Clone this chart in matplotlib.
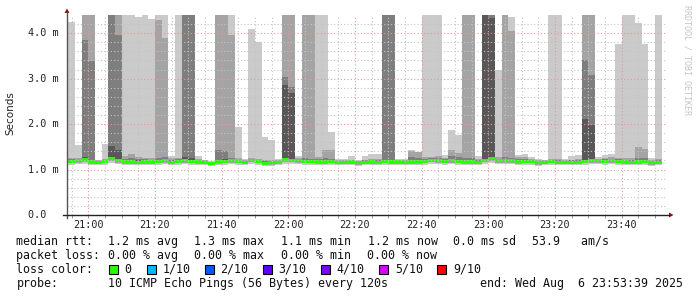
import matplotlib
matplotlib.use("Agg")
import matplotlib.pyplot as plt
import numpy as np
from matplotlib import transforms
from matplotlib.patches import Rectangle, Polygon
from matplotlib.lines import Line2D

# ---------------- data (ms), one value per 2-minute step starting 20:54 ----------------
step_start_min = 20 * 60 + 54
step_minutes = 2

median_ms = [1.187,1.19,1.224,1.18,1.15,1.18,1.245,1.194,1.18,1.172,
             1.165,1.18,1.172,1.18,1.194,1.165,1.18,1.194,1.18,1.172,
             1.15,1.128,1.172,1.18,1.194,1.18,1.165,1.21,1.18,1.14,
             1.15,1.165,1.217,1.21,1.194,1.18,1.18,1.172,1.172,1.18,
             1.158,1.158,1.172,1.15,1.165,1.172,1.165,1.18,1.172,1.172,
             1.158,1.172,1.172,1.18,1.209,1.194,1.187,1.194,1.18,1.172,
             1.172,1.165,1.202,1.238,1.194,1.194,1.194,1.172,1.18,1.18,
             1.15,1.165,1.18,1.165,1.16,1.165,1.165,1.18,1.194,1.194,
             1.18,1.194,1.18,1.172,1.165,1.172,1.18,1.15,1.165]

ping1_ms = [1.11,1.12,1.13,1.10,1.10,1.11,1.15,1.12,1.10,1.09,
            1.09,1.10,1.10,1.11,1.12,1.10,1.11,1.12,1.11,1.11,
            1.10,1.08,1.11,1.11,1.12,1.11,1.09,1.12,1.10,1.07,
            1.08,1.09,1.13,1.12,1.12,1.11,1.11,1.10,1.10,1.11,
            1.09,1.09,1.10,1.08,1.09,1.10,1.09,1.11,1.10,1.10,
            1.09,1.10,1.10,1.11,1.13,1.12,1.11,1.12,1.10,1.10,
            1.10,1.09,1.13,1.15,1.12,1.12,1.12,1.10,1.11,1.11,
            1.08,1.09,1.11,1.09,1.09,1.10,1.10,1.11,1.12,1.12,
            1.11,1.12,1.11,1.10,1.09,1.10,1.11,1.08,1.10]

ping2_ms = [1.14,1.15,1.17,1.13,1.12,1.14,1.19,1.15,1.13,1.12,
            1.12,1.13,1.13,1.14,1.15,1.12,1.14,1.15,1.14,1.13,
            1.12,1.10,1.13,1.14,1.15,1.14,1.12,1.16,1.14,1.10,
            1.11,1.12,1.17,1.16,1.15,1.14,1.14,1.13,1.13,1.14,
            1.12,1.12,1.13,1.11,1.12,1.13,1.12,1.14,1.13,1.13,
            1.12,1.13,1.13,1.14,1.16,1.15,1.14,1.15,1.14,1.13,
            1.13,1.12,1.16,1.19,1.15,1.15,1.15,1.13,1.14,1.14,
            1.11,1.12,1.14,1.12,1.12,1.12,1.12,1.14,1.15,1.15,
            1.14,1.15,1.14,1.13,1.12,1.13,1.14,1.11,1.12]

ping3_ms = [1.165,1.17,1.20,1.155,1.13,1.155,1.22,1.17,1.155,1.15,
            1.14,1.155,1.15,1.155,1.17,1.14,1.155,1.17,1.155,1.15,
            1.13,1.11,1.15,1.155,1.17,1.155,1.14,1.19,1.155,1.12,
            1.13,1.14,1.195,1.19,1.17,1.155,1.155,1.15,1.15,1.155,
            1.135,1.135,1.15,1.13,1.14,1.15,1.14,1.155,1.15,1.15,
            1.135,1.15,1.15,1.155,1.185,1.17,1.165,1.17,1.155,1.15,
            1.15,1.14,1.18,1.215,1.17,1.17,1.17,1.15,1.155,1.155,
            1.13,1.14,1.155,1.14,1.14,1.14,1.14,1.155,1.17,1.17,
            1.155,1.17,1.155,1.15,1.14,1.15,1.155,1.13,1.14]

ping7_ms = [1.21,1.22,1.27,1.22,1.18,1.20,1.51,1.44,1.22,1.22,
            1.20,1.21,1.20,1.22,1.23,1.19,1.21,1.27,1.25,1.20,
            1.17,1.15,1.22,1.24,1.22,1.21,1.18,1.22,1.20,1.16,
            1.16,1.18,2.85,2.68,1.21,1.22,1.21,1.20,1.20,1.20,
            1.18,1.18,1.19,1.16,1.18,1.19,1.19,1.22,1.21,1.18,
            1.17,1.22,1.21,1.21,1.23,1.22,1.21,1.22,1.21,1.22,
            1.21,1.19,5.0,4.33,1.22,1.22,1.22,1.21,1.21,1.20,
            1.17,1.17,1.20,1.18,1.17,1.18,1.19,2.11,1.985,1.20,
            1.21,1.22,1.21,1.20,1.19,1.21,1.21,1.17,1.19]

ping8_ms = [1.23,1.23,3.85,3.39,1.19,1.22,5.0,3.96,1.24,1.26,
            1.23,1.23,1.22,1.25,1.27,1.22,1.23,5.0,5.0,1.22,
            1.19,1.16,1.42,1.40,1.26,1.22,1.19,1.23,1.21,1.18,
            1.18,1.19,3.03,2.81,1.23,1.25,1.24,1.23,1.25,1.24,
            1.19,1.19,1.20,1.17,1.20,1.21,1.21,5.0,5.0,1.19,
            1.19,1.28,1.26,1.24,1.25,1.26,1.24,1.30,1.27,1.26,
            1.26,1.21,5.0,5.0,1.24,1.27,1.26,1.23,1.23,1.22,
            1.18,1.18,1.21,1.20,1.18,1.20,1.21,3.41,3.08,1.21,
            1.23,1.24,1.23,1.22,1.22,1.25,1.25,1.18,1.21]

ping9_ms = [1.25,1.26,5.0,5.0,1.20,1.24,5.0,5.0,1.29,1.34,
            1.27,1.26,1.26,4.28,3.89,1.25,1.26,5.0,5.0,1.24,
            1.20,1.17,5.0,5.0,3.96,1.25,1.20,1.25,1.24,1.22,
            1.22,1.21,5.0,5.0,1.25,5.0,5.0,1.27,1.42,1.42,
            1.21,1.21,1.22,1.19,1.22,1.24,1.24,5.0,5.0,1.21,
            1.21,1.41,1.38,1.28,1.27,1.30,1.26,1.43,1.36,5.0,
            5.0,1.24,5.0,5.0,1.28,5.0,4.04,1.27,1.27,1.24,
            1.21,1.20,1.24,1.23,1.20,1.22,1.24,5.0,5.0,1.23,
            1.26,1.28,1.26,1.26,1.25,1.49,1.45,1.20,1.24]

ping10_ms = [4.24,1.55,5.0,5.0,1.21,1.56,5.0,5.0,5.0,5.0,
             4.36,5.0,4.32,5.0,5.0,1.30,5.0,5.0,5.0,1.29,
             1.21,1.19,5.0,5.0,5.0,1.93,1.23,4.09,3.80,1.71,
             1.64,1.23,5.0,5.0,1.30,5.0,5.0,5.0,5.0,1.82,
             1.24,1.24,1.29,1.22,1.30,1.34,1.35,5.0,5.0,1.24,
             1.24,1.42,1.39,5.0,5.0,5.0,1.33,1.875,1.76,5.0,
             5.0,1.30,5.0,5.0,3.19,5.0,4.35,1.33,1.34,1.28,
             1.24,1.22,5.0,5.0,1.23,1.29,1.33,5.0,5.0,1.27,
             1.33,1.34,3.77,5.0,5.0,4.22,3.77,1.25,5.0]

x_tick_labels = ["21:00", "21:20", "21:40", "22:00", "22:20", "22:40", "23:00", "23:20", "23:40"]
y_tick_values = [0.0, 1.0, 2.0, 3.0, 4.0]
y_tick_labels = ["0.0  ", "1.0 m", "2.0 m", "3.0 m", "4.0 m"]

loss_labels = ["0", "1/10", "2/10", "3/10", "4/10", "5/10", "9/10"]
loss_colors = ["#26ff00", "#00b8ff", "#0059ff", "#5e00ff", "#7e00ff", "#dd00ff", "#ff0000"]

# ---------------- figure ----------------
W, H = 697, 297
fig = plt.figure(figsize=(W / 100, H / 100), dpi=100)
fig.patch.set_facecolor("white")
ax = fig.add_axes([67 / W, (H - 215) / H, 600 / W, 200 / H])
ax.set_facecolor("white")

x_start = 20 * 60 + 53 + 39 / 60.0
x_end = x_start + 180
ax.set_xlim(x_start, x_end)
ax.set_ylim(0, 4.4)

n = len(median_ms)
xe = step_start_min + step_minutes * np.arange(n + 1)


def ext(a):
    a = np.asarray(a, dtype=float)
    return np.append(a, a[-1])


med = np.asarray(median_ms)
bands = [
    (ping1_ms, ping10_ms, "#cacaca"),
    (ping2_ms, ping9_ms, "#a4a4a4"),
    (ping3_ms, ping8_ms, "#7e7e7e"),
    (median_ms, ping7_ms, "#585858"),
]
for z, (lo, hi, col) in enumerate(bands):
    ax.fill_between(xe, ext(lo), ext(hi), step="post", color=col, lw=0,
                    zorder=1 + z * 0.1, antialiased=False)

sw = 0.033
ax.fill_between(xe, ext(med - sw), ext(med + sw), step="post", color="#26ff00",
                lw=0, zorder=2, antialiased=False)

# grid (drawn above data, like rrdtool)
minor_x = np.arange(20 * 60 + 55, x_end, 5)
major_x = [21 * 60 + 20 * k for k in range(len(x_tick_labels))]
for xv in minor_x:
    if xv in major_x:
        continue
    ax.axvline(xv, color="#c4c4c4", lw=0.8, ls=(0, (1, 2)), zorder=3)
for yv in np.arange(0.2, 4.4, 0.2):
    if abs(yv - round(yv)) < 1e-6:
        continue
    ax.axhline(yv, color="#c4c4c4", lw=0.8, ls=(0, (1, 2)), zorder=3)
for xv in major_x:
    ax.axvline(xv, color="#e29a9a", lw=0.8, ls=(0, (1, 2)), zorder=3.1)
for yv in y_tick_values[1:]:
    ax.axhline(yv, color="#e29a9a", lw=0.8, ls=(0, (1, 2)), zorder=3.1)

for s in ax.spines.values():
    s.set_visible(False)

mono = "DejaVu Sans Mono"
ax.set_xticks(major_x)
ax.set_xticklabels(x_tick_labels, fontfamily=mono, fontsize=7.3, color="#222222")
ax.set_xticks(minor_x, minor=True)
ax.tick_params(axis="x", which="both", length=2, width=0.6, color="#888888", pad=1.8)
ax.set_yticks([])

ytrans = transforms.blended_transform_factory(fig.transFigure, ax.transData)
for yv, lab in zip(y_tick_values, y_tick_labels):
    ax.text(28 / W, yv, lab, transform=ytrans, ha="left", va="center",
            fontfamily=mono, fontsize=7.3, color="#222222", clip_on=False)

# axes lines with arrows
def fx(px):
    return px / W


def fy(py):
    return 1 - py / H


fig.add_artist(Line2D([fx(67), fx(67)], [fy(218), fy(12)], color="#555555", lw=1.0))
fig.add_artist(Line2D([fx(63), fx(669)], [fy(215), fy(215)], color="#222222", lw=1.0))
fig.add_artist(Polygon([[fx(64.5), fy(13)], [fx(69.5), fy(13)], [fx(67), fy(8.5)]],
                       closed=True, color="#8b1010", lw=0))
fig.add_artist(Polygon([[fx(669), fy(212.5)], [fx(669), fy(217.5)], [fx(673.5), fy(215)]],
                       closed=True, color="#8b1010", lw=0))

fig.text(fx(10), fy(113), "Seconds", rotation=90, ha="center", va="center",
         fontsize=7.5, color="#222222")
fig.text(fx(687), fy(5), "RRDTOOL / TOBI OETIKER", rotation=270, ha="center", va="top",
         fontfamily=mono, fontsize=6, color="#c4c4c4")

# legend / info lines
fs = 8.4
tc = "#111111"
def put(px, py, s):
    fig.text(fx(px), fy(py), s, ha="left", va="baseline", fontfamily=mono, fontsize=fs, color=tc)

base = [245, 259, 273, 287]
put(16.5, base[0], "median rtt:")
for px, s in zip([108, 194, 281, 368, 453, 532],
                 ["1.2 ms avg", "1.3 ms max", "1.1 ms min", "1.2 ms now", "0.0 ms sd", "53.9   am/s"]):
    put(px, base[0], s)
put(16.5, base[1], "packet loss:")
for px, s in zip([108, 194, 281, 367], ["0.00 % avg", "0.00 % max", "0.00 % min", "0.00 % now"]):
    put(px, base[1], s)
put(16.5, base[2], "loss color:")
box_x = [108.6, 146.5, 204.6, 262.7, 320.8, 379, 437]
for bx, lab, col in zip(box_x, loss_labels, loss_colors):
    fig.add_artist(Rectangle((fx(bx), fy(273.5)), 9 / W, 9 / H, facecolor=col,
                             edgecolor="black", lw=0.8))
    put(bx + 16, base[2], lab)
put(16.5, base[3], "probe:")
put(108, base[3], "10 ICMP Echo Pings (56 Bytes) every 120s")
put(480, base[3], "end: Wed Aug  6 23:53:39 2025")

fig.savefig("out.png", dpi=100, facecolor="white")
